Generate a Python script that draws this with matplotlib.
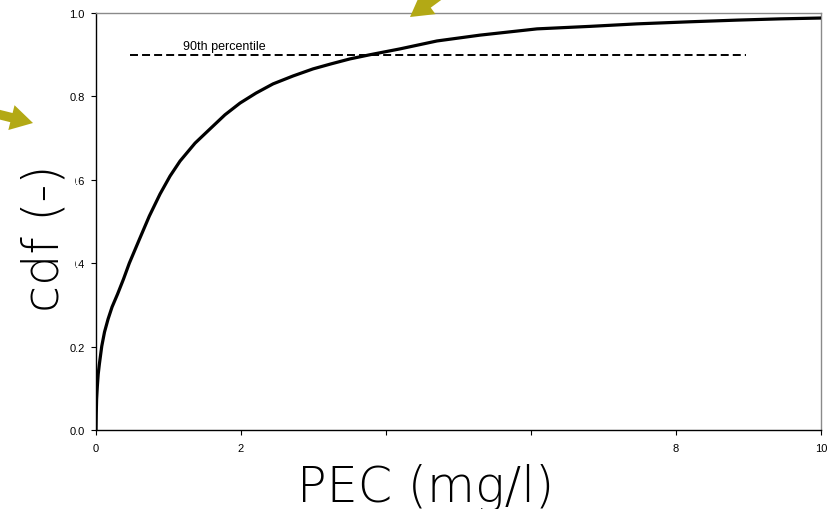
import numpy as np
import matplotlib.pyplot as plt
from matplotlib.patches import FancyArrowPatch

# cumulative distribution of predicted concentrations
pec = [0.0, 0.003, 0.008, 0.018, 0.030, 0.046, 0.079, 0.117, 0.166, 0.221,
       0.297, 0.379, 0.459, 0.600, 0.735, 0.883, 1.021, 1.159, 1.366, 1.572,
       1.779, 1.986, 2.207, 2.441, 2.717, 2.993, 3.241, 3.503, 3.779, 4.193,
       4.703, 5.297, 6.083, 6.814, 7.462, 8.193, 8.841, 9.434, 10.0]
cdf = [0.0, 0.038, 0.074, 0.105, 0.134, 0.158, 0.201, 0.235, 0.266, 0.295,
       0.326, 0.362, 0.400, 0.458, 0.513, 0.566, 0.609, 0.645, 0.688, 0.722,
       0.756, 0.784, 0.808, 0.830, 0.849, 0.866, 0.878, 0.890, 0.900, 0.914,
       0.933, 0.947, 0.962, 0.968, 0.974, 0.979, 0.983, 0.986, 0.988]

p90 = 0.9
p90_span = [0.47, 8.97]

xticks = [0, 2, 4, 6, 8, 10]
yticks = [0.0, 0.2, 0.4, 0.6, 0.8, 1.0]

fig = plt.figure(figsize=(8.38, 5.10), dpi=100)
ax = fig.add_axes([0.1146, 0.1549, 0.8651, 0.8176])

ax.plot(pec, cdf, color='black', lw=2.3, solid_joinstyle='round', zorder=3)
ax.hlines(p90, p90_span[0], p90_span[1], colors='black', lw=1.4,
          linestyles=(0, (4.1, 2.1)), zorder=2)
ax.text(1.2, p90 + 0.007, '90th percentile', fontsize=9,
        family='Liberation Sans', va='bottom')

ax.set_xlim(0, 10)
ax.set_ylim(0, 1)
ax.set_xticks(xticks)
ax.set_yticks(yticks)
ax.set_xticklabels([str(t) for t in xticks])
ax.set_yticklabels(['%.1f' % t for t in yticks])
for lab in ax.get_xticklabels() + ax.get_yticklabels():
    lab.set_family('Liberation Sans')
    lab.set_fontsize(8)
ax.tick_params(axis='x', direction='out', length=3.5, width=0.8, pad=6)
ax.tick_params(axis='y', direction='out', length=3.5, width=0.8, pad=4.5)

for side in ('top', 'right'):
    ax.spines[side].set_color('#8a8a8a')
    ax.spines[side].set_linewidth(1.0)
for side in ('left', 'bottom'):
    ax.spines[side].set_color('black')
    ax.spines[side].set_linewidth(1.0)

# big axis titles sit on white boxes that hide the nearby tick labels
title_font = dict(fontsize=35.5, family='DejaVu Sans', weight='light',
                  color='black')
ax.set_xlabel('PEC (mg/l)', **title_font,
              bbox=dict(boxstyle='square,pad=0.55', fc='white', ec='none'))
ax.xaxis.set_label_coords(0.454, -0.079)
ax.set_ylabel('cdf (-)', **title_font,
              bbox=dict(boxstyle='square,pad=0.14', fc='white', ec='none'))
ax.yaxis.set_label_coords(-0.038, 0.462)

# olive pointer arrows
olive = '#b3a915'
style = 'simple,head_width=2.3,head_length=2.0,tail_width=0.85'
for a, b in [((-0.15, 3.98), (0.33, 3.86)), ((4.55, 5.25), (4.10, 4.92))]:
    fig.add_artist(FancyArrowPatch(a, b, transform=fig.dpi_scale_trans,
                                   arrowstyle=style, mutation_scale=8,
                                   shrinkA=0, shrinkB=0,
                                   color=olive, lw=0))

fig.savefig('out.png', dpi=100)
